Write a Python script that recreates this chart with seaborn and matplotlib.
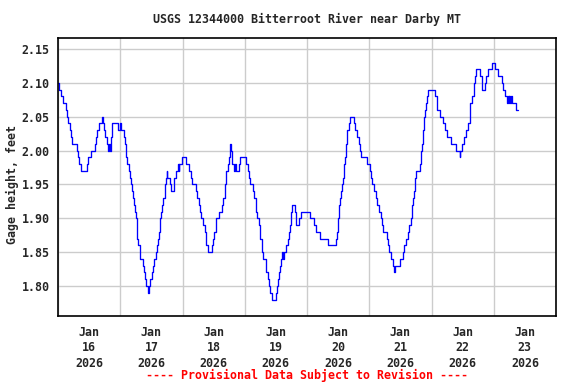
import pandas as pd
import seaborn as sns
import matplotlib
matplotlib.use("Agg")
import matplotlib.pyplot as plt
import matplotlib.dates as mdates

# Gage height change points: hours after 2026-01-16 00:00 and the new value (ft)
hours = [
    0, 0.5, 1, 2, 3, 3.6, 4, 4.5, 5, 5.5, 7.3, 7.6, 8, 9, 11, 11.5, 12.8, 14.1,
    14.6, 15.1, 15.9, 16.9, 17.4, 17.9, 18.2, 18.7, 19.2, 19.7, 19.9, 20.3, 20.8,
    21, 23.1, 24.0, 24.2, 25.6, 25.9, 26.1, 26.4, 26.7, 27.2, 27.7, 28.2, 28.7,
    29, 29.2, 29.7, 30.1, 30.3, 30.4, 30.5, 31, 31.5, 31.8, 32.6, 33.1, 33.6,
    34.1, 34.6, 35.1, 35.6, 36.2, 36.7, 36.9, 37.7, 38, 38.5, 39, 39.3, 39.5,
    39.7, 40, 40.5, 41.2, 41.3, 41.8, 42.0, 42.2, 43.1, 43.6, 44.6, 44.9, 45.4,
    46.2, 46.5, 46.7, 47.9,
    49.3, 50.6, 51.1, 51.8, 53.1, 53.6, 54.2, 54.7, 55.2, 56.0, 56.5, 57.0, 57.2,
    58.0, 59.5, 59.8, 60.3, 60.8, 61.1, 62.1, 63.4, 63.6, 64.2, 64.4, 64.7, 64.9,
    65.4, 65.9, 66.2, 66.5, 66.7, 67.0, 67.2, 67.7, 68.4, 68.6, 69.8, 70.3, 72.6,
    73.1, 73.6, 74.2, 75.0, 75.7, 76.2, 76.5, 76.7, 77.5, 77.7, 78.0, 78.5, 78.7,
    79.0, 80.0, 80.3, 80.8, 81.3, 81.8, 82.4, 83.9, 84.4, 84.9, 85.2, 85.7, 85.9,
    86.2, 86.9, 87.1, 88.0, 88.5, 89.0, 89.3, 89.8, 90.0, 90.3, 91.3, 91.6, 91.8,
    93.1, 93.6, 97.0, 98.6, 99.6, 100.9, 104.0, 107.0, 107.5, 107.8, 108.1,
    108.2, 108.3, 108.8, 109.1, 109.6, 109.8, 110.1, 110.4, 110.7, 110.9, 111.1,
    111.3, 111.6, 112.1, 112.4, 114.2, 114.5, 115.2, 116.0, 116.5, 116.8, 119.3,
    120.1, 120.6, 121.1, 122.0, 122.7, 122.9, 123.9, 124.4, 124.9, 125.4, 126.8,
    127.3, 127.8, 128.3, 129.1, 129.6, 130.1, 131.9, 132.9, 133.4, 134.2, 134.8,
    135.5, 136.0, 136.4, 136.5, 136.8, 137.3, 137.5, 137.8, 138.1, 139.6, 139.9,
    140.1, 140.4, 140.7, 140.9, 141.1, 141.3, 141.4, 141.7, 142.1, 142.5, 145.3,
    146.0, 146.3, 147.1, 148.4, 149.2, 150.0, 151.5, 153.3, 154.8, 155.1, 155.6,
    156.6, 157.2, 158.0, 158.7, 158.9, 159.0, 159.5, 160.2, 160.5, 160.8, 161.0,
    162.8, 163.4, 163.6, 164.6, 165.2, 165.7, 167.2, 168.5, 169.8, 171.1, 171.6,
    172.4, 173.3, 173.5, 173.8, 174.0, 174.3, 174.5, 175.2, 176.6, 177.3,
]
gage_ft = [
    2.10, 2.09, 2.08, 2.07, 2.06, 2.05, 2.04, 2.03, 2.02, 2.01, 2.00, 1.99, 1.98,
    1.97, 1.98, 1.99, 2.00, 2.01, 2.02, 2.03, 2.04, 2.05, 2.04, 2.03, 2.02, 2.01,
    2.00, 2.01, 2.00, 2.02, 2.03, 2.04, 2.03, 2.04, 2.03, 2.02, 2.01, 2.00, 1.99,
    1.98, 1.97, 1.96, 1.95, 1.94, 1.93, 1.92, 1.91, 1.90, 1.89, 1.88, 1.87, 1.86,
    1.85, 1.84, 1.83, 1.82, 1.81, 1.80, 1.79, 1.80, 1.81, 1.82, 1.83, 1.84, 1.85,
    1.86, 1.87, 1.88, 1.89, 1.90, 1.91, 1.92, 1.93, 1.94, 1.95, 1.96, 1.97, 1.96,
    1.95, 1.94, 1.95, 1.96, 1.97, 1.98, 1.97, 1.98, 1.99,
    1.98, 1.97, 1.96, 1.95, 1.94, 1.93, 1.92, 1.91, 1.90, 1.89, 1.88, 1.87, 1.86,
    1.85, 1.86, 1.87, 1.88, 1.89, 1.90, 1.91, 1.92, 1.93, 1.94, 1.95, 1.96, 1.97,
    1.98, 1.99, 2.00, 2.01, 2.00, 1.99, 1.98, 1.97, 1.98, 1.97, 1.98, 1.99, 1.98,
    1.97, 1.96, 1.95, 1.94, 1.93, 1.92, 1.91, 1.90, 1.89, 1.88, 1.87, 1.86, 1.85,
    1.84, 1.83, 1.82, 1.81, 1.80, 1.79, 1.78, 1.79, 1.80, 1.81, 1.82, 1.83, 1.84,
    1.85, 1.84, 1.85, 1.86, 1.87, 1.88, 1.89, 1.90, 1.91, 1.92, 1.91, 1.90, 1.89,
    1.90, 1.91, 1.90, 1.89, 1.88, 1.87, 1.86, 1.87, 1.88, 1.89, 1.90,
    1.91, 1.92, 1.93, 1.94, 1.95, 1.96, 1.97, 1.98, 1.99, 2.00, 2.01,
    2.02, 2.03, 2.04, 2.05, 2.04, 2.03, 2.02, 2.01, 2.00, 1.99, 1.98,
    1.97, 1.96, 1.95, 1.94, 1.93, 1.92, 1.91, 1.90, 1.89, 1.88, 1.87,
    1.86, 1.85, 1.84, 1.83, 1.82, 1.83, 1.84, 1.85, 1.86, 1.87, 1.88,
    1.89, 1.90, 1.91, 1.92, 1.93, 1.94, 1.95, 1.96, 1.97, 1.98, 1.99,
    2.00, 2.01, 2.02, 2.03, 2.04, 2.05, 2.06, 2.07, 2.08, 2.09, 2.08,
    2.07, 2.06, 2.05, 2.04, 2.03, 2.02, 2.01, 2.00, 1.99, 2.00, 2.01,
    2.02, 2.03, 2.04, 2.05, 2.06, 2.07, 2.08, 2.09, 2.10, 2.11, 2.12,
    2.11, 2.10, 2.09, 2.10, 2.11, 2.12, 2.13, 2.12, 2.11, 2.10, 2.09,
    2.08, 2.07, 2.08, 2.07, 2.08, 2.07, 2.08, 2.07, 2.06, 2.06,
]

title = "USGS 12344000 Bitterroot River near Darby MT"
y_label = "Gage height, feet"
footer = "---- Provisional Data Subject to Revision ----"
y_ticks = [1.80, 1.85, 1.90, 1.95, 2.00, 2.05, 2.10, 2.15]

start = pd.Timestamp("2026-01-16")
df = pd.DataFrame({
    "time": start + pd.to_timedelta(hours, unit="h"),
    "gage": gage_ft,
})

sns.set_style("white")
plt.rcParams["font.family"] = ["DejaVu Sans Mono"]
plt.rcParams["font.weight"] = "bold"
fs = 8.4

fig = plt.figure(figsize=(5.76, 3.84), dpi=100)
ax = fig.add_axes([58 / 576, 1 - 316 / 384, 498 / 576, 278 / 384])

sns.lineplot(data=df, x="time", y="gage", ax=ax, color="#0000ff",
             linewidth=0.95, drawstyle="steps-post", sort=False)

ax.set_xlim(start, start + pd.Timedelta(days=8))
ax.set_ylim(1.7557, 2.1662)

# labels at noon, grid lines at midnight
ax.xaxis.set_major_locator(mdates.HourLocator(byhour=12))
ax.xaxis.set_major_formatter(mdates.DateFormatter("%b\n%d\n%Y"))
ax.xaxis.set_minor_locator(mdates.DayLocator())
ax.set_yticks(y_ticks)
ax.set_yticklabels([f"{v:.2f}" for v in y_ticks])

ax.grid(False)
ax.grid(True, which="minor", axis="x", color="#cccccc", linewidth=1)
ax.grid(True, which="major", axis="y", color="#cccccc", linewidth=1)
ax.set_axisbelow(True)

ax.tick_params(axis="x", which="major", length=0, pad=7, labelsize=fs)
ax.tick_params(axis="x", which="minor", length=0)
ax.tick_params(axis="y", length=0, pad=6, labelsize=fs)
for lab in ax.get_xticklabels():
    lab.set_linespacing(1.25)

for sp in ax.spines.values():
    sp.set_visible(True)
    sp.set_color("black")
    sp.set_linewidth(1.2)

ax.set_xlabel("")
ax.set_ylabel("")
fig.text(12 / 576, 1 - 185 / 384, y_label, rotation=90, ha="center",
         va="center", fontsize=fs, fontweight="bold")
fig.text(307 / 576, 1 - 19 / 384, title, ha="center", va="center",
         fontsize=fs, fontweight="bold")
fig.text(307 / 576, 1 - 375 / 384, footer, ha="center", va="center",
         fontsize=fs, fontweight="bold", color="red")

fig.savefig("out.png", dpi=100)
